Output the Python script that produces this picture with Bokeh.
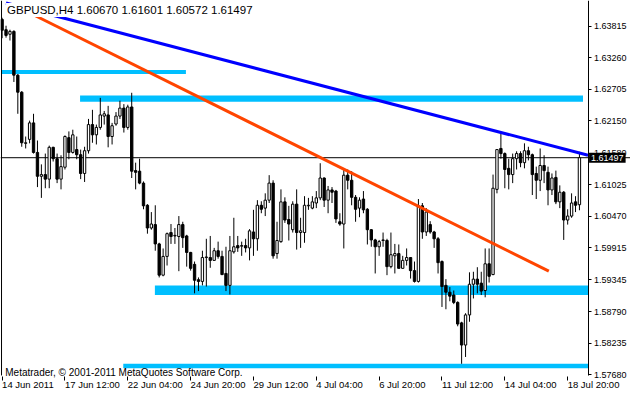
from bokeh.plotting import figure
from bokeh.models import FixedTicker, Span, Label, ColumnDataSource, NumeralTickFormatter
from bokeh.embed import file_html
from bokeh.resources import INLINE

FONT = "Liberation Sans"

# ---- GBPUSD H4 candles (bar index 0..147) ----
opens = [1.6393, 1.6375, 1.6367, 1.6372, 1.6295, 1.6265, 1.6175, 1.6182, 1.6211, 1.6159,
         1.6117, 1.6120, 1.6112, 1.6168, 1.6148, 1.6112, 1.6133, 1.6185, 1.6159, 1.6164,
         1.6155, 1.6122, 1.6162, 1.6208, 1.6190, 1.6203, 1.6223, 1.6225, 1.6187, 1.6209,
         1.6223, 1.6237, 1.6203, 1.6239, 1.6127, 1.6126, 1.6105, 1.6066, 1.6026, 1.6032,
         1.5998, 1.5943, 1.5976, 1.6018, 1.6012, 1.6011, 1.6032, 1.6012, 1.5983, 1.5962,
         1.5935, 1.5932, 1.5974, 1.5974, 1.5969, 1.5986, 1.5976, 1.5946, 1.5925, 1.5984,
         1.5995, 1.5994, 1.5995, 1.5991, 1.6019, 1.6007, 1.6066, 1.6061, 1.6075, 1.6105,
         1.5981, 1.6002, 1.6072, 1.6041, 1.6023, 1.6068, 1.6018, 1.6018, 1.6065, 1.6061,
         1.6070, 1.6079, 1.6114, 1.6075, 1.6093, 1.6091, 1.6037, 1.6033, 1.6119, 1.6110,
         1.6080, 1.6061, 1.6077, 1.6059, 1.6023, 1.6005, 1.5993, 1.6004, 1.6004, 1.5958,
         1.5977, 1.5981, 1.5955, 1.5969, 1.5974, 1.5951, 1.5932, 1.6065, 1.6019, 1.6032,
         1.6019, 1.6007, 1.5967, 1.5925, 1.5913, 1.5908, 1.5895, 1.5859, 1.5820, 1.5873,
         1.5927, 1.5936, 1.5929, 1.5916, 1.5963, 1.5944, 1.6094, 1.6166, 1.6157, 1.6131,
         1.6120, 1.6148, 1.6157, 1.6141, 1.6162, 1.6155, 1.6122, 1.6110, 1.6136, 1.6124,
         1.6093, 1.6115, 1.6072, 1.6089, 1.6040, 1.6047, 1.6072, 1.60670]
highs = [1.6396, 1.6382, 1.6375, 1.6374, 1.6297, 1.6267, 1.6187, 1.6215, 1.6227, 1.6180,
         1.6138, 1.6157, 1.6171, 1.6169, 1.6157, 1.6154, 1.6189, 1.6196, 1.6199, 1.6187,
         1.6164, 1.6169, 1.6218, 1.6234, 1.6208, 1.6255, 1.6232, 1.6241, 1.6211, 1.6230,
         1.6250, 1.6244, 1.6243, 1.6264, 1.6141, 1.6148, 1.6108, 1.6068, 1.6054, 1.6066,
         1.6000, 1.5990, 1.6018, 1.6033, 1.6026, 1.6047, 1.6037, 1.6014, 1.5984, 1.5967,
         1.5939, 1.5986, 1.6007, 1.6012, 1.5991, 1.6002, 1.5986, 1.5993, 1.6012, 1.6044,
         1.6012, 1.6002, 1.6007, 1.6024, 1.6058, 1.6075, 1.6073, 1.6087, 1.6119, 1.6110,
         1.6037, 1.6094, 1.6080, 1.6065, 1.6073, 1.6094, 1.6044, 1.6082, 1.6079, 1.6082,
         1.6091, 1.6140, 1.6115, 1.6100, 1.6098, 1.6093, 1.6052, 1.6129, 1.6129, 1.6126,
         1.6084, 1.6080, 1.6091, 1.6061, 1.6024, 1.6007, 1.6005, 1.6018, 1.6007, 1.6018,
         1.5998, 1.5997, 1.5977, 1.5990, 1.5974, 1.5967, 1.6077, 1.6070, 1.6061, 1.6038,
         1.6021, 1.6010, 1.5969, 1.5936, 1.5922, 1.5916, 1.5897, 1.5861, 1.5876, 1.5948,
         1.5949, 1.5957, 1.5949, 1.5990, 1.5990, 1.6120, 1.6164, 1.6192, 1.6159, 1.6148,
         1.6157, 1.6161, 1.6161, 1.6175, 1.6169, 1.6157, 1.6134, 1.6166, 1.6154, 1.6134,
         1.6122, 1.6127, 1.6101, 1.6091, 1.6059, 1.6087, 1.6082, 1.61601]
lows = [1.6360, 1.6361, 1.6356, 1.6283, 1.6227, 1.6169, 1.6166, 1.6175, 1.6157, 1.6098,
        1.6079, 1.6096, 1.6096, 1.6143, 1.6105, 1.6094, 1.6129, 1.6147, 1.6157, 1.6147,
        1.6112, 1.6107, 1.6157, 1.6176, 1.6173, 1.6199, 1.6208, 1.6168, 1.6173, 1.6206,
        1.6218, 1.6194, 1.6199, 1.6114, 1.6094, 1.6103, 1.6059, 1.6016, 1.6023, 1.5986,
        1.5939, 1.5941, 1.5960, 1.5998, 1.5998, 1.5950, 1.5991, 1.5958, 1.5951, 1.5911,
        1.5915, 1.5925, 1.5923, 1.5956, 1.5969, 1.5972, 1.5943, 1.5915, 1.5909, 1.5981,
        1.5984, 1.5977, 1.5983, 1.5969, 1.5977, 1.5986, 1.6052, 1.6047, 1.6070, 1.5972,
        1.5972, 1.6000, 1.6035, 1.6004, 1.6018, 1.5988, 1.5991, 1.6000, 1.6058, 1.6059,
        1.6061, 1.6075, 1.6063, 1.6052, 1.6070, 1.6035, 1.6030, 1.5990, 1.6094, 1.6066,
        1.6037, 1.6045, 1.6052, 1.5997, 1.5993, 1.5946, 1.5977, 1.5993, 1.5943, 1.5955,
        1.5946, 1.5955, 1.5955, 1.5960, 1.5937, 1.5930, 1.5930, 1.6007, 1.6012, 1.6016,
        1.5991, 1.5946, 1.5887, 1.5883, 1.5897, 1.5892, 1.5853, 1.5787, 1.5799, 1.5861,
        1.5902, 1.5911, 1.5908, 1.5904, 1.5930, 1.5943, 1.6087, 1.6148, 1.6096, 1.6094,
        1.6105, 1.6129, 1.6133, 1.6131, 1.6145, 1.6084, 1.6077, 1.6091, 1.6105, 1.6066,
        1.6084, 1.6068, 1.6061, 1.6005, 1.6032, 1.6044, 1.6054, 1.60572]
closes = [1.6374, 1.6365, 1.6372, 1.6295, 1.6265, 1.6176, 1.6176, 1.6211, 1.6159, 1.6117,
          1.6120, 1.6112, 1.6168, 1.6148, 1.6112, 1.6134, 1.6187, 1.6159, 1.6190, 1.6155,
          1.6122, 1.6162, 1.6208, 1.6190, 1.6203, 1.6225, 1.6227, 1.6187, 1.6206, 1.6223,
          1.6237, 1.6203, 1.6239, 1.6126, 1.6124, 1.6105, 1.6065, 1.6026, 1.6033, 1.5998,
          1.5943, 1.5976, 1.6016, 1.6011, 1.6013, 1.6032, 1.6009, 1.5983, 1.5955, 1.5934,
          1.5932, 1.5974, 1.5975, 1.5969, 1.5986, 1.5976, 1.5944, 1.5925, 1.5986, 1.5993,
          1.5991, 1.5995, 1.5991, 1.6021, 1.6007, 1.6066, 1.6059, 1.6075, 1.6105, 1.5977,
          1.6004, 1.6072, 1.6040, 1.6033, 1.6068, 1.6018, 1.6021, 1.6066, 1.6066, 1.6072,
          1.6079, 1.6114, 1.6075, 1.6093, 1.6089, 1.6042, 1.6033, 1.6119, 1.6110, 1.6080,
          1.6059, 1.6075, 1.6058, 1.6023, 1.6005, 1.5993, 1.6002, 1.6005, 1.5958, 1.5979,
          1.5981, 1.5955, 1.5969, 1.5974, 1.5951, 1.5932, 1.6065, 1.6019, 1.6054, 1.6019,
          1.6007, 1.5965, 1.5923, 1.5913, 1.5906, 1.5895, 1.5857, 1.5820, 1.5873, 1.5927,
          1.5936, 1.5927, 1.5915, 1.5963, 1.5941, 1.6096, 1.6164, 1.6157, 1.6129, 1.6120,
          1.6148, 1.6157, 1.6141, 1.6162, 1.6155, 1.6120, 1.6110, 1.6136, 1.6127, 1.6093,
          1.6114, 1.6072, 1.6089, 1.6040, 1.6047, 1.6070, 1.6066, 1.61497]

# ---- axes ----
time_tick_bars = [0, 16, 32, 48, 64, 80, 96, 112, 128, 144]
time_tick_labels = ["14 Jun 2011", "17 Jun 12:00", "22 Jun 04:00", "24 Jun 20:00",
                    "29 Jun 12:00", "4 Jul 04:00", "6 Jul 20:00", "11 Jul 12:00",
                    "14 Jul 04:00", "18 Jul 20:00"]
price_ticks = [1.63815, 1.63260, 1.62705, 1.62150, 1.61580, 1.61025, 1.60470,
               1.59915, 1.59345, 1.58790, 1.58235, 1.57680]

# ---- drawn objects ----
band_left = [-0.15, 19.85, 38.9, 30.85]
band_right = [46.8, 147.9, 149.2, 149.2]
band_bottom = [1.6297, 1.6248, 1.5908, 1.5779]
band_top = [1.6304, 1.6259, 1.5925, 1.5787]

blue_trend_x = [1.0, 149.2]
blue_trend_y = [1.6422, 1.6154]
red_trend_x = [4.0, 139.2]
red_trend_y = [1.6415, 1.5950]

symbol = "GBPUSD,H4"
last_price = 1.61497
copyright_text = "Metatrader, \u00a9 2001-2011 MetaQuotes Software Corp."

# chart-window geometry (bars / prices)
CHART_LEFT = -0.15      # left border of the chart window
CHART_RIGHT = 149.2     # price scale position
CHART_BOTTOM = 1.57645  # time scale position
CHART_TOP = 1.64264

n = len(opens)
idx = list(range(n))
body_top = [max(o, c) for o, c in zip(opens, closes)]
body_bot = [min(o, c) for o, c in zip(opens, closes)]
fills = ["white" if c >= o else "black" for o, c in zip(opens, closes)]
src = ColumnDataSource(dict(x=idx, h=highs, l=lows, t=body_top, b=body_bot, f=fills))

# the frame covers (almost) the whole canvas; both scales are drawn inside it
p = figure(width=630, height=390, x_range=(-0.41, 160.0), y_range=(1.5740, CHART_TOP),
           y_axis_location="right", toolbar_location=None, output_backend="svg",
           title=None, min_border_left=0, min_border_top=0, min_border_right=0,
           min_border_bottom=0)
p.background_fill_color = "white"
p.border_fill_color = "white"
p.outline_line_color = None
p.xgrid.visible = False
p.ygrid.visible = False

# bands
p.quad(left=band_left, right=band_right, bottom=band_bottom, top=band_top,
       fill_color="#00BFFF", line_color=None)

# bid line
p.add_layout(Span(location=last_price, dimension="width", line_color="black",
                  line_width=1, level="underlay"))

# left border of the chart window
p.segment(x0=[CHART_LEFT], y0=[CHART_BOTTOM + 0.0002], x1=[CHART_LEFT], y1=[CHART_TOP],
          line_color="black", line_width=1)

# candles
p.segment(x0="x", y0="l", x1="x", y1="h", source=src, line_color="black", line_width=1)
p.vbar(x="x", width=0.6, top="t", bottom="b", source=src, fill_color="f",
       line_color="black", line_width=1)

# trend lines
p.line(red_trend_x, red_trend_y, line_color="#FF4500", line_width=3)
p.line(blue_trend_x, blue_trend_y, line_color="#0000FF", line_width=3)

# price scale
ya = p.yaxis[0]
ya.axis_label = None
ya.fixed_location = CHART_RIGHT
ya.bounds = (CHART_BOTTOM + 0.0002, CHART_TOP)
ya.ticker = FixedTicker(ticks=price_ticks)
ya.formatter = NumeralTickFormatter(format="0.00000")
ya.major_tick_out = 3
ya.major_tick_in = 0
ya.minor_tick_out = 0
ya.minor_tick_in = 0
ya.major_label_standoff = 3
ya.axis_line_color = "black"
ya.major_label_text_font = FONT
ya.major_label_text_font_size = "9px"
ya.major_label_text_color = "black"

# time scale
xa = p.xaxis[0]
xa.axis_label = None
xa.fixed_location = CHART_BOTTOM
xa.ticker = FixedTicker(ticks=time_tick_bars)
xa.major_label_overrides = {b: s for b, s in zip(time_tick_bars, time_tick_labels)}
xa.major_tick_out = 4
xa.major_tick_in = 0
xa.minor_tick_out = 0
xa.minor_tick_in = 0
xa.major_label_standoff = 4
xa.major_label_orientation = -0.0001
xa.axis_line_color = None
xa.major_tick_line_color = "black"
xa.major_label_text_font = FONT
xa.major_label_text_font_size = "9.5px"
xa.major_label_text_color = "black"

# header text with white background
hdr = "%s  %.5f %.5f %.5f %.5f" % (symbol, opens[-1], highs[-1], lows[-1], closes[-1])
p.add_layout(Label(x=1.0, y=1.6422, text=hdr, text_font=FONT, text_font_size="11.5px",
                   text_color="black", text_baseline="top", text_align="left",
                   background_fill_color="white", padding=1))

# copyright
p.add_layout(Label(x=0.8, y=1.5772, text=copyright_text, text_font=FONT,
                   text_font_size="10px", text_color="black", text_baseline="alphabetic",
                   text_align="left"))

# last price marker on the price scale
p.add_layout(Label(x=CHART_RIGHT, y=last_price, text="%.5f" % last_price, text_font=FONT,
                   text_font_size="9px", text_color="white", text_baseline="middle",
                   text_align="left", x_offset=1, background_fill_color="black", padding=2))

open("out.html", "w").write(file_html(p, INLINE))
